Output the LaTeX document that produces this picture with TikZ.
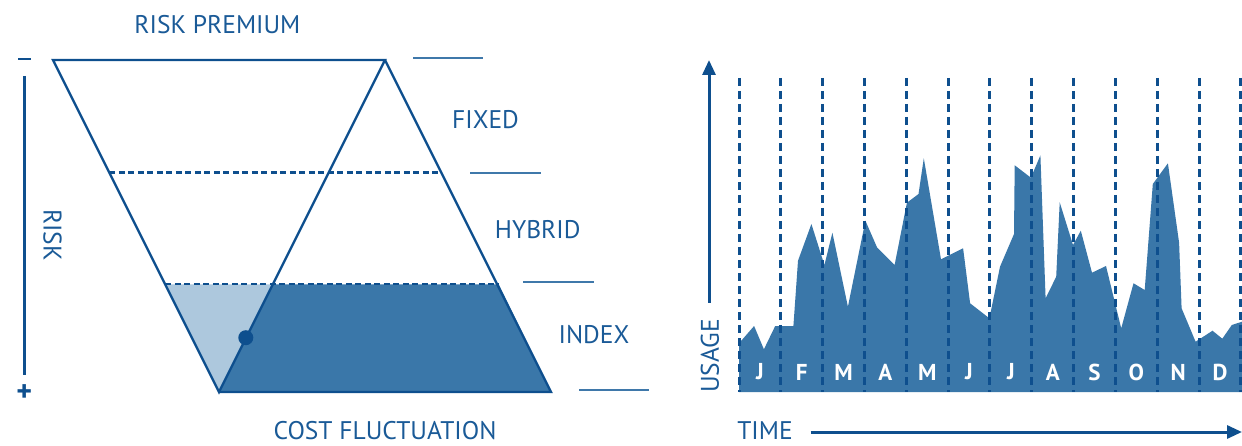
\documentclass[tikz,border=0pt]{standalone}
\usepackage{fontspec}
\setmainfont{PT Sans}
\usetikzlibrary{arrows.meta}
\definecolor{lineblue}{HTML}{0E4F8E}
\definecolor{areablue}{HTML}{3A77A9}
\definecolor{lightblue}{HTML}{ADC8DD}
\definecolor{textblue}{HTML}{1A5A97}
\definecolor{tickblue}{HTML}{3F78AA}
\begin{document}
\begin{tikzpicture}[x=1pt,y=-1pt,
  lbl/.style={text=textblue,font=\fontsize{25.5}{27}\selectfont,inner sep=0pt},
  month/.style={text=white,font=\bfseries\fontsize{23}{25}\selectfont,inner sep=0pt},
  edge/.style={draw=lineblue,line width=2.4pt,line join=miter},
  dashline/.style={draw=lineblue,line width=2.4pt,dash pattern=on 6pt off 3.5pt},
  monthline/.style={draw=lineblue,line width=3pt,dash pattern=on 8pt off 5pt},
  tickline/.style={draw=tickblue,line width=2pt},
  axis/.style={draw=lineblue,line width=3pt},
  arr/.style={axis,-{Triangle[length=15pt,width=13pt]}}]
\useasboundingbox (0,0) rectangle (1242,446);

% ---------- left diagram ----------
\coordinate (TL) at (53,60);
\coordinate (TR) at (385,60);
\coordinate (BV) at (219,392);
\coordinate (BR) at (551,392);
\coordinate (D1L) at (109.3,172.7);
\coordinate (D1R) at (441.5,172.7);
\coordinate (D2L) at (165.4,284.3);
\coordinate (D2M) at (272.9,284.3);
\coordinate (D2R) at (498.7,284.3);

\fill[lightblue] (D2L) -- (D2M) -- (BV) -- cycle;
\fill[areablue] (D2M) -- (D2R) -- (BR) -- (BV) -- cycle;
\path[dashline] (D1L) -- (D1R);
\path[dashline] (D2L) -- (D2R);
\path[edge] (TL) -- (TR) -- (BV) -- cycle;
\path[edge] (TR) -- (BR) -- (BV);
\node[circle,fill=lineblue,minimum size=15pt,inner sep=0pt] (dot) at (245.8,337.7) {};

% tick lines
\coordinate (t1a) at (413,58);   \coordinate (t1b) at (483,58);
\coordinate (t2a) at (470,172.7); \coordinate (t2b) at (541,172.7);
\coordinate (t3a) at (523,282);  \coordinate (t3b) at (594,282);
\coordinate (t4a) at (579,389.5); \coordinate (t4b) at (649,389.5);
\path[tickline] (t1a) -- (t1b);
\path[tickline] (t2a) -- (t2b);
\path[tickline] (t3a) -- (t3b);
\path[tickline] (t4a) -- (t4b);

% risk axis
\coordinate (r1) at (24.4,76);
\coordinate (r2) at (24.4,375);
\path[axis] (r1) -- (r2);
\coordinate (m1) at (18,59.5); \coordinate (m2) at (30.5,59.5);
\path[draw=lineblue,line width=2pt] (m1) -- (m2);
\node[text=lineblue,font=\bfseries\fontsize{30}{32}\selectfont,inner sep=0pt] (plus) at (24.4,393.5) {+};

\node[lbl] (premium) at (217.4,25) {RISK PREMIUM};
\node[lbl,rotate=-90] (risk) at (52.6,235) {RISK};
\node[lbl] (fixed) at (485.5,119.3) {FIXED};
\node[lbl] (hybrid) at (537.7,229.3) {HYBRID};
\node[lbl] (index) at (594,335) {INDEX};
\node[lbl] (cost) at (385,431) {COST FLUCTUATION};

% ---------- right chart ----------
\fill[areablue] (739,392) -- (739,343.3) -- (754.1,326) -- (763.9,349.3) -- (775.2,326)
 -- (793.4,326) -- (798,260.7) -- (811.4,224) -- (824.4,265) -- (832.4,232.7)
 -- (847.9,306.7) -- (865.4,220.7) -- (877,247.3) -- (894.6,265) -- (906.9,202.7)
 -- (918.5,194) -- (923.8,158.3) -- (941,259.3) -- (963.1,248.3) -- (970.1,303.3)
 -- (989.4,318.3) -- (1000,266.7) -- (1014,234) -- (1014.7,165.3) -- (1030.9,177.7)
 -- (1040.4,155.3) -- (1045.6,298.3) -- (1056.2,276.7) -- (1059.7,202.3) -- (1073,245)
 -- (1080.8,230.7) -- (1092,272.7) -- (1106,266) -- (1121.2,328.3) -- (1133.5,283.3)
 -- (1144.7,290) -- (1152.8,184) -- (1167.9,163.3) -- (1179.1,242.7) -- (1181.6,308.3)
 -- (1195.6,341.7) -- (1212.5,330.7) -- (1222.3,338.7) -- (1231.8,325) -- (1242,321.7)
 -- (1242,392) -- cycle;

\foreach \i in {0,...,12}{
  \coordinate (v\i a) at ({739+41.83*\i},78);
  \coordinate (v\i b) at ({739+41.83*\i},392);
  \path[monthline] (v\i a) -- (v\i b);
}
\foreach \m [count=\i from 0] in {J,F,M,A,M,J,J,A,S,O,N,D}{
  \node[month] (mon\i) at ({739+41.83*\i+20.9},372) {\m};
}

\coordinate (u1) at (709,303);
\coordinate (u2) at (709,60);
\path[arr] (u1) -- (u2);
\node[lbl,rotate=90] (usage) at (710,356) {USAGE};

\node[lbl] (time) at (765,431) {TIME};
\coordinate (ta) at (810.5,432);
\coordinate (tb) at (1242,432);
\path[arr] (ta) -- (tb);
\end{tikzpicture}
\end{document}
